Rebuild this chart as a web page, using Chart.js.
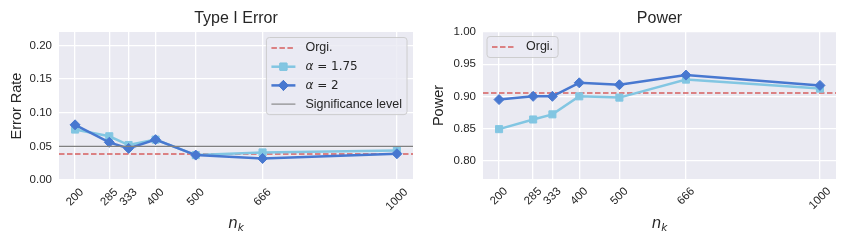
<!DOCTYPE html>
<html>
<head>
<meta charset="utf-8">
<script src="https://cdn.jsdelivr.net/npm/chart.js@4.4.1/dist/chart.umd.min.js"></script>
<style>
body { margin: 0; background: #fff; width: 848px; height: 242px; overflow: hidden; }
.box { position: absolute; top: 0; width: 424px; height: 242px; }
</style>
</head>
<body>
<div class="box" style="left:0"><canvas id="errorChart" width="424" height="242"></canvas></div>
<div class="box" style="left:424px"><canvas id="powerChart" width="424" height="242"></canvas></div>
<script>
// n_k values (x axis) and tick labels
const nk = [200, 285, 333, 400, 500, 666, 1000];
const xTicks = [200, 285, 333, 400, 500, 666, 1000];

// Type I error
const errAlpha175 = [0.075, 0.065, 0.052, 0.060, 0.037, 0.041, 0.044];
const errAlpha2 = [0.082, 0.056, 0.047, 0.060, 0.037, 0.032, 0.039];
const errOrgi = 0.0385;
const sigLevel = 0.05;
const errTicks = [0, 0.05, 0.10, 0.15, 0.20];

// Power
const powAlpha175 = [0.849, 0.864, 0.872, 0.900, 0.898, 0.926, 0.912];
const powAlpha2 = [0.895, 0.900, 0.900, 0.921, 0.918, 0.933, 0.917];
const powOrgi = 0.905;
const powTicks = [0.80, 0.85, 0.90, 0.95, 1.00];

// seaborn "muted" colours
const LIGHT = '#82C6E2';
const DARK = '#4878D0';
const RED = '#D65F5F';
const GRAY = '#808080';
const TXT = '#262626';
const SANS = '"Liberation Sans", Arial, sans-serif';
const MATH = '"DejaVu Sans", sans-serif';

function pts(ys) {
    return nk.map((x, i) => ({ x: x, y: ys[i] }));
}
function hline(y) {
    return [{ x: 160, y: y }, { x: 1040, y: y }];
}

function drawLegend(ctx, items, x, y, align) {
    ctx.save();
    let maxW = 0;
    items.forEach(it => {
        let w;
        if (it.alpha) {
            ctx.font = 'italic 12px ' + MATH;
            w = ctx.measureText('α').width;
            ctx.font = '12px ' + MATH;
            w += ctx.measureText(' = ' + it.alpha).width;
        } else {
            ctx.font = '12.5px ' + SANS;
            w = ctx.measureText(it.text).width;
        }
        maxW = Math.max(maxW, w);
    });
    const w = 39 + maxW + 5;
    const h = 21 + (items.length - 1) * 18.7;
    if (align === 'right') x = x - w;

    ctx.beginPath();
    ctx.roundRect(x, y, w, h, 3);
    ctx.fillStyle = 'rgba(234,234,242,0.8)';
    ctx.fill();
    ctx.strokeStyle = 'rgba(200,200,200,0.85)';
    ctx.lineWidth = 1;
    ctx.stroke();

    items.forEach((it, i) => {
        const cy = y + 10.5 + i * 18.7;
        ctx.beginPath();
        ctx.setLineDash(it.dash || []);
        ctx.strokeStyle = it.color;
        ctx.lineWidth = it.width;
        ctx.moveTo(x + 5, cy);
        ctx.lineTo(x + 29, cy);
        ctx.stroke();
        ctx.setLineDash([]);
        if (it.marker) {
            ctx.lineWidth = 1;
            Chart.helpers.drawPoint(ctx, { pointStyle: it.marker, radius: 5, rotation: 0, borderWidth: 1 }, x + 17, cy);
            ctx.fillStyle = it.color;
            ctx.fill();
            ctx.stroke();
        }
        ctx.fillStyle = TXT;
        ctx.textBaseline = 'middle';
        ctx.textAlign = 'left';
        if (it.alpha) {
            ctx.font = 'italic 12px ' + MATH;
            ctx.fillText('α', x + 39, cy);
            const aw = ctx.measureText('α').width;
            ctx.font = '12px ' + MATH;
            ctx.fillText(' = ' + it.alpha, x + 39 + aw, cy);
        } else {
            ctx.font = '12.5px ' + SANS;
            ctx.fillText(it.text, x + 39, cy);
        }
    });
    ctx.restore();
}

const decor = {
    id: 'decor',
    beforeDraw(chart) {
        const { ctx, chartArea: a } = chart;
        ctx.save();
        ctx.fillStyle = '#eaeaf2';
        ctx.fillRect(a.left, a.top, a.right - a.left, a.bottom - a.top);
        ctx.restore();
    },
    afterDraw(chart, args, opts) {
        const { ctx, chartArea: a } = chart;
        const xs = chart.scales.x;
        const cx = (a.left + a.right) / 2;
        ctx.save();

        // rotated x tick labels, centred on the tick like matplotlib
        ctx.font = '11.5px ' + SANS;
        ctx.fillStyle = TXT;
        ctx.textAlign = 'center';
        ctx.textBaseline = 'middle';
        xTicks.forEach(v => {
            const px = xs.getPixelForValue(v);
            const tw = ctx.measureText(String(v)).width;
            const bh = (tw + 10) * Math.SQRT1_2;
            ctx.save();
            ctx.translate(px, a.bottom + 7 + bh / 2);
            ctx.rotate(-Math.PI / 4);
            ctx.fillText(String(v), 0, 0);
            ctx.restore();
        });

        // x title n_k
        ctx.textAlign = 'left';
        ctx.textBaseline = 'alphabetic';
        ctx.font = 'italic 15px ' + MATH;
        const nw = ctx.measureText('n').width;
        ctx.font = 'italic 10.5px ' + MATH;
        const kw = ctx.measureText('k').width;
        const sx = cx - (nw + kw) / 2;
        ctx.font = 'italic 15px ' + MATH;
        ctx.fillText('n', sx, 228);
        ctx.font = 'italic 10.5px ' + MATH;
        ctx.fillText('k', sx + nw, 231);

        // y title
        ctx.save();
        ctx.font = '14.5px ' + SANS;
        ctx.textAlign = 'center';
        ctx.textBaseline = 'middle';
        ctx.translate(opts.yTitleX, (a.top + a.bottom) / 2);
        ctx.rotate(-Math.PI / 2);
        ctx.fillText(opts.yTitle, 0, 0);
        ctx.restore();

        // chart title
        ctx.font = '16px ' + SANS;
        ctx.textAlign = 'center';
        ctx.fillText(opts.title, cx, 23);
        ctx.restore();

        if (opts.legendAlign === 'right') {
            drawLegend(ctx, opts.legend, a.right - 6, a.top + 5.5, 'right');
        } else {
            drawLegend(ctx, opts.legend, a.left + 4, a.top + 4.5, 'left');
        }
    }
};

function lineSet(label, data, color, style, radius) {
    return {
        label: label,
        data: data,
        borderColor: color,
        backgroundColor: color,
        borderWidth: 2.5,
        pointStyle: style,
        pointRadius: radius,
        pointBorderWidth: 1,
        pointBackgroundColor: color,
        pointBorderColor: color,
        tension: 0
    };
}

function refSet(label, y, color, dash, width) {
    return {
        label: label,
        data: hline(y),
        borderColor: color,
        borderWidth: width,
        borderDash: dash,
        pointRadius: 0,
        tension: 0
    };
}

function makeOptions(yMin, yMax, yTicks, rightPad, xHeight, decorOpts) {
    return {
        responsive: false,
        animation: false,
        events: [],
        layout: { padding: { left: 0, right: rightPad, top: 32, bottom: 0 } },
        plugins: {
            legend: { display: false },
            tooltip: { enabled: false },
            decor: decorOpts
        },
        scales: {
            x: {
                type: 'linear',
                min: 160,
                max: 1040,
                afterBuildTicks: s => { s.ticks = xTicks.map(v => ({ value: v })); },
                afterFit: s => { s.height = xHeight; },
                ticks: { display: false },
                grid: { color: '#ffffff', lineWidth: 1.3, drawTicks: false },
                border: { display: false }
            },
            y: {
                min: yMin,
                max: yMax,
                afterBuildTicks: s => { s.ticks = yTicks.map(v => ({ value: v })); },
                afterFit: s => { s.width = 59; },
                ticks: {
                    padding: 7,
                    color: TXT,
                    font: { family: SANS, size: 11.5 },
                    callback: v => v.toFixed(2)
                },
                grid: { color: '#ffffff', lineWidth: 1.3, drawTicks: false },
                border: { display: false }
            }
        }
    };
}

new Chart(document.getElementById('errorChart').getContext('2d'), {
    type: 'line',
    data: {
        datasets: [
            refSet('Significance level', sigLevel, GRAY, [], 1.1),
            lineSet('α = 2', pts(errAlpha2), DARK, 'rectRot', 5),
            lineSet('α = 1.75', pts(errAlpha175), LIGHT, 'rect', 5),
            refSet('Orgi.', errOrgi, RED, [5.5, 2.5], 1.5)
        ]
    },
    options: makeOptions(0, 0.22, errTicks, 11, 62, {
        title: 'Type I Error',
        yTitle: 'Error Rate',
        yTitleX: 17,
        legendAlign: 'right',
        legend: [
            { text: 'Orgi.', color: RED, width: 1.5, dash: [5.5, 2.5] },
            { alpha: '1.75', color: LIGHT, width: 2.5, marker: 'rect' },
            { alpha: '2', color: DARK, width: 2.5, marker: 'rectRot' },
            { text: 'Significance level', color: GRAY, width: 1.1 }
        ]
    }),
    plugins: [decor]
});

new Chart(document.getElementById('powerChart').getContext('2d'), {
    type: 'line',
    data: {
        datasets: [
            lineSet('α = 2', pts(powAlpha2), DARK, 'rectRot', 5),
            lineSet('α = 1.75', pts(powAlpha175), LIGHT, 'rect', 5),
            refSet('Orgi.', powOrgi, RED, [5.5, 2.5], 1.5)
        ]
    },
    options: makeOptions(0.7715, 1.0, powTicks, 12, 63, {
        title: 'Power',
        yTitle: 'Power',
        yTitleX: 15,
        legendAlign: 'left',
        legend: [
            { text: 'Orgi.', color: RED, width: 1.5, dash: [5.5, 2.5] }
        ]
    }),
    plugins: [decor]
});
</script>
</body>
</html>
